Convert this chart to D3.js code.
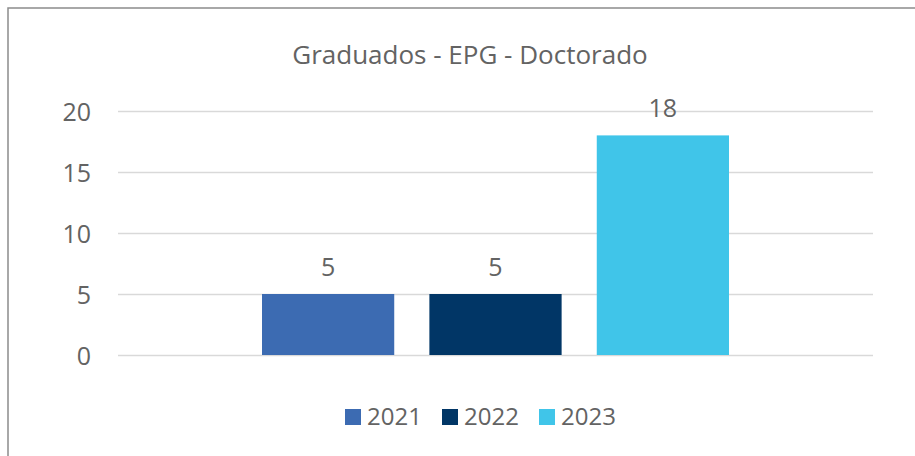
<!DOCTYPE html>
<html>
<head>
<meta charset="utf-8">
<style>
  body { margin: 0; background: #fff; }
  svg { display: block; font-family: "Open Sans", "Noto Sans", sans-serif; }
</style>
</head>
<body>
<script src="https://cdn.jsdelivr.net/npm/d3@7"></script>
<svg width="915" height="456"></svg>
<script>
const years = ["2021", "2022", "2023"]
const values = [5, 5, 18]
const colors = ["#3C6BB2", "#013666", "#40C5E9"]
const yTicks = [0, 5, 10, 15, 20]
const title = "Graduados - EPG - Doctorado"

const svg = d3.select("svg")
const textColor = "#636363"

// chart frame
svg.append("rect")
    .attr("x", 8).attr("y", 8)
    .attr("width", 930).attr("height", 480)
    .attr("fill", "none")
    .attr("stroke", "#8c8c8c")
    .attr("stroke-width", 1.5)

const yScale = d3.scaleLinear().domain([0, 20]).range([355, 111])
const xScale = d3.scaleBand().domain(years).range([262, 729]).paddingInner(0.21)

// gridlines + tick labels
const yAxis = d3.axisLeft(yScale)
    .tickValues(yTicks)
    .tickSize(-755)
    .tickPadding(27)
    .tickSizeOuter(0)

const yg = svg.append("g")
    .attr("transform", "translate(118,0)")
    .call(yAxis)
yg.select(".domain").remove()
yg.selectAll(".tick line").attr("stroke", "#d9d9d9").attr("stroke-width", 1.5)
yg.selectAll(".tick text")
    .attr("fill", textColor)
    .attr("dy", 9)
    .style("font-size", "25px")
    .style("font-family", "'Open Sans', 'Noto Sans', sans-serif")

svg.selectAll("rect.bar")
    .data(values)
    .enter()
    .append("rect")
    .attr("class", "bar")
    .attr("x", (d, i) => xScale(years[i]))
    .attr("y", d => yScale(d))
    .attr("width", xScale.bandwidth())
    .attr("height", d => yScale(0) - yScale(d))
    .attr("fill", (d, i) => colors[i])

svg.selectAll("text.label")
    .data(values)
    .enter()
    .append("text")
    .attr("class", "label")
    .attr("x", (d, i) => xScale(years[i]) + xScale.bandwidth() / 2)
    .attr("y", d => yScale(d) - 18)
    .attr("text-anchor", "middle")
    .attr("fill", textColor)
    .style("font-size", "25px")
    .text(d => d)

svg.append("text")
    .attr("x", 470)
    .attr("y", 64)
    .attr("text-anchor", "middle")
    .attr("fill", textColor)
    .style("font-size", "26px")
    .text(title)

// legend
const legendX = [345, 442, 539]
const lg = svg.selectAll("g.legend")
    .data(years)
    .enter()
    .append("g")
    .attr("class", "legend")
    .attr("transform", (d, i) => `translate(${legendX[i]},409)`)
lg.append("rect")
    .attr("width", 16).attr("height", 16)
    .attr("fill", (d, i) => colors[i])
lg.append("text")
    .attr("x", 22).attr("y", 16)
    .attr("fill", textColor)
    .style("font-size", "24px")
    .text(d => d)
</script>
</body>
</html>
